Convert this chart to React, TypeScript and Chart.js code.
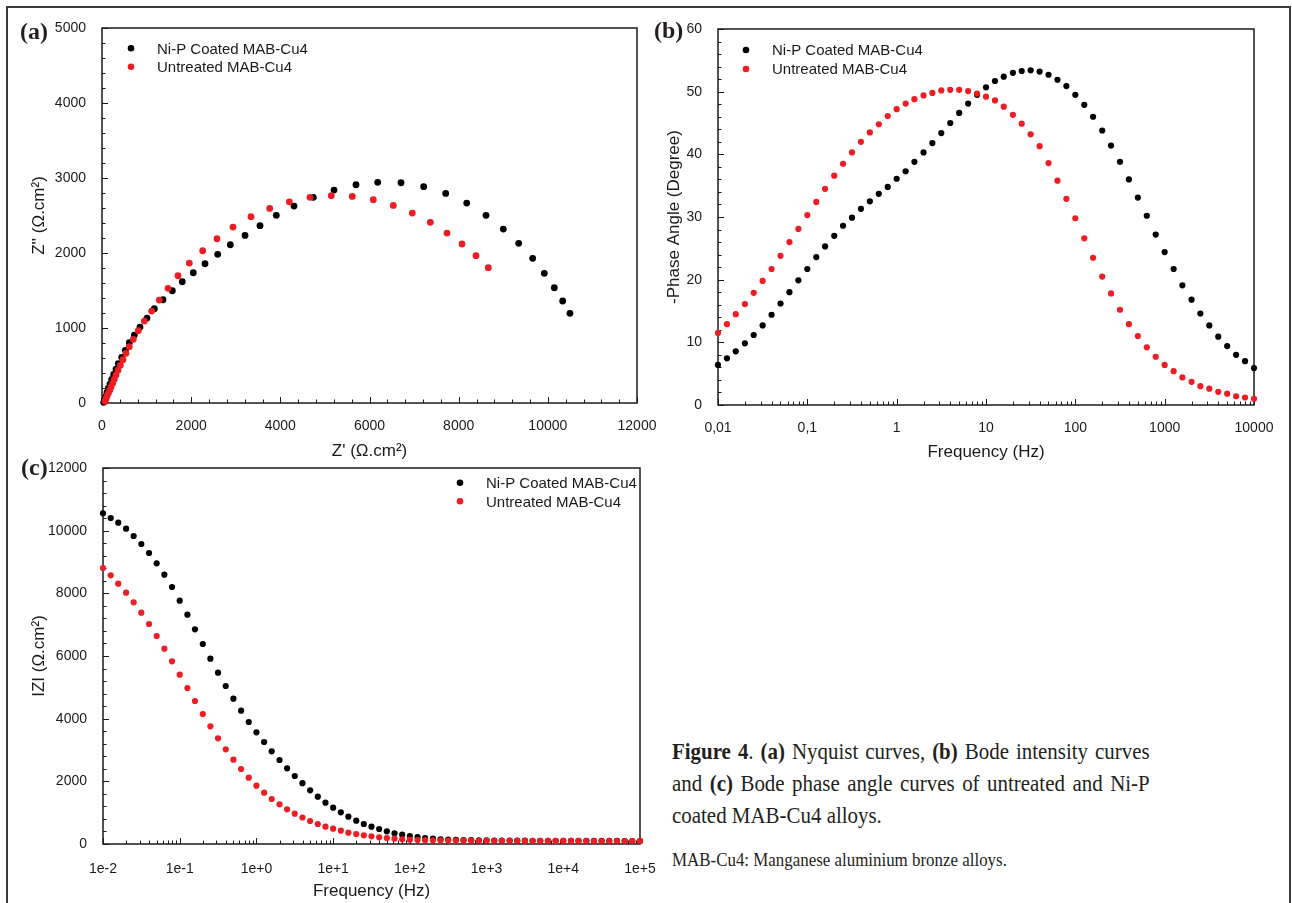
import React, { useEffect, useRef } from "react";
import { Chart, registerables } from "chart.js";

Chart.register(...registerables);

// ---------- data ----------
const SERIES_NAMES = ["Ni-P Coated MAB-Cu4", "Untreated MAB-Cu4"];
const SERIES_COLORS = ["#000000", "#ee1d23"];

// (a) Nyquist: Z' and Z'' (ohm.cm2)
const NYQ_COATED_RE = [38, 52, 83, 112, 141, 179, 217, 262, 314, 366, 442, 523, 612, 725, 852, 1009, 1173, 1368, 1577, 1801, 2048, 2310, 2595, 2878, 3208, 3544, 3910, 4307, 4740, 5204, 5697, 6184, 6707, 7215, 7709, 8180, 8613, 9001, 9346, 9660, 9921, 10145, 10333, 10496];
const NYQ_COATED_IM = [9, 40, 84, 142, 196, 253, 316, 382, 453, 524, 609, 702, 804, 906, 1013, 1133, 1257, 1377, 1497, 1617, 1737, 1857, 1982, 2110, 2235, 2364, 2502, 2626, 2742, 2839, 2910, 2942, 2937, 2884, 2795, 2666, 2502, 2319, 2129, 1929, 1729, 1537, 1360, 1196];
const NYQ_UNTREATED_RE = [67, 90, 112, 141, 173, 202, 240, 276, 314, 359, 411, 471, 538, 612, 702, 815, 949, 1114, 1286, 1480, 1705, 1958, 2258, 2579, 2938, 3342, 3761, 4202, 4665, 5143, 5614, 6085, 6534, 6960, 7364, 7738, 8075, 8389, 8665];
const NYQ_UNTREATED_IM = [22, 53, 89, 129, 169, 213, 263, 316, 373, 436, 503, 577, 662, 751, 849, 964, 1093, 1226, 1373, 1529, 1697, 1866, 2030, 2190, 2346, 2484, 2595, 2683, 2742, 2764, 2755, 2710, 2635, 2533, 2409, 2266, 2120, 1964, 1804];

// measurement frequencies (Hz)
const FREQ_HZ = [
  0.01, 0.0126, 0.0158, 0.02, 0.0251, 0.0316, 0.0398, 0.0501, 0.0631, 0.0794,
  0.1, 0.126, 0.158, 0.2, 0.251, 0.316, 0.398, 0.501, 0.631, 0.794,
  1, 1.26, 1.58, 2, 2.51, 3.16, 3.98, 5.01, 6.31, 7.94,
  10, 12.6, 15.8, 20, 25.1, 31.6, 39.8, 50.1, 63.1, 79.4,
  100, 126, 158, 200, 251, 316, 398, 501, 631, 794,
  1000, 1260, 1580, 2000, 2510, 3160, 3980, 5010, 6310, 7940,
  10000, 12600, 15800, 20000, 25100, 31600, 39800, 50100, 63100, 79400,
  100000,
];

// (b) -phase angle (degree), 0.01 .. 10000 Hz
const PHASE_COATED = [6.4, 7.45, 8.56, 9.84, 11.17, 12.7, 14.4, 16.2, 18.0, 19.9, 21.7, 23.6, 25.3, 27.0, 28.6, 29.9, 31.3, 32.5, 33.7, 34.8, 36.1, 37.3, 38.8, 40.3, 41.8, 43.4, 45.0, 46.6, 48.1, 49.5, 50.7, 51.7, 52.4, 53.0, 53.3, 53.4, 53.2, 52.7, 51.9, 50.9, 49.5, 47.9, 46.0, 43.8, 41.4, 38.8, 36.0, 33.1, 30.2, 27.2, 24.4, 21.7, 19.1, 16.8, 14.6, 12.7, 10.9, 9.4, 8.0, 7.0, 5.9];
const PHASE_UNTREATED = [11.5, 12.9, 14.5, 16.1, 17.9, 19.8, 21.7, 23.8, 26.0, 28.1, 30.3, 32.4, 34.5, 36.6, 38.5, 40.3, 42.0, 43.5, 44.8, 46.1, 47.2, 48.1, 48.8, 49.4, 49.8, 50.2, 50.3, 50.3, 50.1, 49.7, 49.2, 48.6, 47.6, 46.3, 44.9, 43.2, 41.3, 38.6, 35.8, 32.9, 29.8, 26.6, 23.5, 20.5, 17.8, 15.2, 12.9, 11.0, 9.2, 7.7, 6.4, 5.4, 4.4, 3.7, 3.0, 2.6, 2.1, 1.8, 1.4, 1.2, 1.0];

// (c) |Z| (ohm.cm2), 0.01 .. 1e5 Hz
const MODZ_COATED = [10554, 10404, 10255, 10064, 9830, 9575, 9287, 8958, 8596, 8202, 7766, 7318, 6852, 6383, 5915, 5468, 5043, 4638, 4254, 3894, 3564, 3255, 2957, 2681, 2415, 2170, 1940, 1713, 1511, 1319, 1160, 1011, 873, 745, 638, 553, 479, 404, 340, 298, 255, 223, 191, 170, 150, 140, 132, 126, 121, 117, 114, 112, 110, 108, 106, 105, 104, 103, 102, 101, 100, 100, 99, 99, 98, 98, 97, 97, 96, 96, 96];
const MODZ_UNTREATED = [8808, 8574, 8308, 8021, 7713, 7382, 7021, 6638, 6234, 5830, 5404, 4979, 4564, 4149, 3755, 3372, 3021, 2692, 2394, 2117, 1862, 1638, 1436, 1266, 1106, 968, 846, 734, 638, 553, 489, 425, 361, 319, 277, 245, 213, 191, 170, 150, 138, 128, 122, 117, 113, 110, 108, 106, 105, 104, 103, 102, 101, 100, 100, 99, 99, 98, 98, 98, 97, 97, 97, 97, 96, 96, 96, 96, 96, 95, 95];

// ticks
const NYQ_X_TICKS = [0, 2000, 4000, 6000, 8000, 10000, 12000];
const NYQ_Y_TICKS = [0, 1000, 2000, 3000, 4000, 5000];
const PHASE_X_TICKS = [0.01, 0.1, 1, 10, 100, 1000, 10000];
const PHASE_X_LABELS = ["0,01", "0,1", "1", "10", "100", "1000", "10000"];
const PHASE_Y_TICKS = [0, 10, 20, 30, 40, 50, 60];
const MODZ_X_TICKS = [0.01, 0.1, 1, 10, 100, 1000, 10000, 100000];
const MODZ_X_LABELS = ["1e-2", "1e-1", "1e+0", "1e+1", "1e+2", "1e+3", "1e+4", "1e+5"];
const MODZ_Y_TICKS = [0, 2000, 4000, 6000, 8000, 10000, 12000];

// ---------- styling helpers ----------
const INK = "#1a1a1a";
const FONT = "'Liberation Sans', Arial, Helvetica, sans-serif";
const SERIF = "'Liberation Serif', 'Times New Roman', serif";
const TICK_FONT = { family: FONT, size: 14 };
const TITLE_FONT = { family: FONT, size: 17 };

type Mark = { v: number; major: boolean };

function linearMarks(min: number, max: number, minor: number, major: number): Mark[] {
  const out: Mark[] = [];
  const n = Math.round((max - min) / minor);
  for (let k = 0; k <= n; k++) {
    const v = min + k * minor;
    out.push({ v, major: Math.abs(v / major - Math.round(v / major)) < 1e-6 });
  }
  return out;
}

function logMarks(e0: number, e1: number): Mark[] {
  const out: Mark[] = [];
  for (let e = e0; e <= e1; e++) {
    const d = Math.pow(10, e);
    out.push({ v: d, major: true });
    if (e < e1) for (let m = 2; m <= 9; m++) out.push({ v: m * d, major: false });
  }
  return out;
}

function decor(id: string, xMarks: Mark[], yMarks: Mark[], legend: { dx: number; dy: number; gap: number; tx: number }) {
  return {
    id,
    beforeDatasetsDraw(chart: any) {
      const { ctx, chartArea } = chart;
      const { left, right, top, bottom } = chartArea;
      const xs = chart.scales.x;
      const ys = chart.scales.y;
      ctx.save();
      ctx.strokeStyle = INK;
      ctx.lineWidth = 1;
      ctx.beginPath();
      xMarks.forEach((m) => {
        const p = Math.round(xs.getPixelForValue(m.v)) + 0.5;
        ctx.moveTo(p, bottom);
        ctx.lineTo(p, bottom - (m.major ? 6 : 3.5));
      });
      yMarks.forEach((m) => {
        const p = Math.round(ys.getPixelForValue(m.v)) + 0.5;
        ctx.moveTo(left, p);
        ctx.lineTo(left + (m.major ? 6 : 3.5), p);
      });
      ctx.stroke();
      ctx.lineWidth = 1.5;
      ctx.strokeRect(left, top, right - left, bottom - top);
      ctx.restore();
    },
    afterDatasetsDraw(chart: any) {
      const { ctx, chartArea } = chart;
      const { left, top } = chartArea;
      ctx.save();
      ctx.font = `15px ${FONT}`;
      ctx.textBaseline = "alphabetic";
      ctx.textAlign = "left";
      SERIES_NAMES.forEach((name, k) => {
        const y = top + legend.dy + k * legend.gap;
        ctx.fillStyle = SERIES_COLORS[k];
        ctx.beginPath();
        ctx.arc(left + legend.dx, y, 3.3, 0, Math.PI * 2);
        ctx.fill();
        ctx.fillStyle = INK;
        ctx.fillText(name, left + legend.tx, y + 5.3);
      });
      ctx.restore();
    },
  };
}

function axis(o: {
  type: string; min: number; max: number; ticks: number[]; labels?: string[];
  pad: number; title: string; titlePad: number; size: number; horizontal: boolean;
}) {
  return {
    type: o.type,
    min: o.min,
    max: o.max,
    position: o.horizontal ? "bottom" : "left",
    afterBuildTicks: (s: any) => {
      s.ticks = o.ticks.map((v) => ({ value: v }));
    },
    afterFit: (s: any) => {
      if (o.horizontal) {
        s.height = o.size;
        s.paddingLeft = 0;
        s.paddingRight = 0;
      } else {
        s.width = o.size;
        s.paddingTop = 0;
        s.paddingBottom = 0;
      }
    },
    ticks: {
      font: TICK_FONT,
      color: INK,
      padding: o.pad,
      maxRotation: 0,
      minRotation: 0,
      autoSkip: false,
      callback: (v: number, i: number) => (o.labels ? o.labels[i] : String(v)),
    },
    grid: { display: false },
    border: { display: false },
    title: {
      display: true,
      text: o.title,
      font: TITLE_FONT,
      color: INK,
      padding: o.horizontal ? { top: 0, bottom: o.titlePad } : { top: o.titlePad, bottom: 0 },
    },
  };
}

function scatterSet(label: string, color: string, pts: { x: number; y: number }[], r: number, order: number) {
  return {
    label,
    data: pts,
    backgroundColor: color,
    borderColor: color,
    pointBackgroundColor: color,
    pointBorderColor: color,
    pointBorderWidth: 0,
    pointRadius: r,
    pointHoverRadius: r,
    showLine: false,
    clip: false as any,
    order,
  };
}

const basePlugins = { legend: { display: false }, tooltip: { enabled: false } };

function nyquistConfig(): any {
  return {
    type: "scatter",
    data: {
      datasets: [
        scatterSet(SERIES_NAMES[0], SERIES_COLORS[0], NYQ_COATED_RE.map((x, i) => ({ x, y: NYQ_COATED_IM[i] })), 3.4, 1),
        scatterSet(SERIES_NAMES[1], SERIES_COLORS[1], NYQ_UNTREATED_RE.map((x, i) => ({ x, y: NYQ_UNTREATED_IM[i] })), 3.4, 0),
      ],
    },
    options: {
      responsive: false,
      animation: false,
      events: [],
      layout: { padding: { left: 0, top: 28, right: 33, bottom: 0 }, autoPadding: false },
      plugins: basePlugins,
      scales: {
        x: axis({ type: "linear", min: 0, max: 12000, ticks: NYQ_X_TICKS, pad: 7, title: "Z' (Ω.cm²)", titlePad: 8, size: 67, horizontal: true }),
        y: axis({ type: "linear", min: 0, max: 5000, ticks: NYQ_Y_TICKS, pad: 8, title: "Z'' (Ω.cm²)", titlePad: 29, size: 102, horizontal: false }),
      },
    },
    plugins: [decor("decorA", linearMarks(0, 12000, 400, 2000), linearMarks(0, 5000, 200, 1000), { dx: 29, dy: 20.3, gap: 18.4, tx: 55 })],
  };
}

function phaseConfig(): any {
  return {
    type: "scatter",
    data: {
      datasets: [
        scatterSet(SERIES_NAMES[0], SERIES_COLORS[0], PHASE_COATED.map((y, i) => ({ x: FREQ_HZ[i], y })), 3.1, 1),
        scatterSet(SERIES_NAMES[1], SERIES_COLORS[1], PHASE_UNTREATED.map((y, i) => ({ x: FREQ_HZ[i], y })), 3.1, 0),
      ],
    },
    options: {
      responsive: false,
      animation: false,
      events: [],
      layout: { padding: { left: 0, top: 29, right: 38, bottom: 0 }, autoPadding: false },
      plugins: basePlugins,
      scales: {
        x: axis({ type: "logarithmic", min: 0.01, max: 10000, ticks: PHASE_X_TICKS, labels: PHASE_X_LABELS, pad: 7, title: "Frequency (Hz)", titlePad: 7, size: 65, horizontal: true }),
        y: axis({ type: "linear", min: 0, max: 60, ticks: PHASE_Y_TICKS, pad: 8, title: "-Phase Angle (Degree)", titlePad: 14, size: 68, horizontal: false }),
      },
    },
    plugins: [decor("decorB", logMarks(-2, 4), linearMarks(0, 60, 2, 10), { dx: 28, dy: 21, gap: 19, tx: 54 })],
  };
}

function modulusConfig(): any {
  return {
    type: "scatter",
    data: {
      datasets: [
        scatterSet(SERIES_NAMES[0], SERIES_COLORS[0], MODZ_COATED.map((y, i) => ({ x: FREQ_HZ[i], y })), 3.1, 1),
        scatterSet(SERIES_NAMES[1], SERIES_COLORS[1], MODZ_UNTREATED.map((y, i) => ({ x: FREQ_HZ[i], y })), 3.1, 0),
      ],
    },
    options: {
      responsive: false,
      animation: false,
      events: [],
      layout: { padding: { left: 0, top: 28, right: 30, bottom: 0 }, autoPadding: false },
      plugins: basePlugins,
      scales: {
        x: axis({ type: "logarithmic", min: 0.01, max: 100000, ticks: MODZ_X_TICKS, labels: MODZ_X_LABELS, pad: 9, title: "Frequency (Hz)", titlePad: 1, size: 59, horizontal: true }),
        y: axis({ type: "linear", min: 0, max: 12000, ticks: MODZ_Y_TICKS, pad: 8, title: "IZI (Ω.cm²)", titlePad: 29, size: 103, horizontal: false }),
      },
    },
    plugins: [decor("decorC", logMarks(-2, 5), linearMarks(0, 12000, 400, 2000), { dx: 357, dy: 14.7, gap: 18.6, tx: 383 })],
  };
}

function ChartCanvas(props: { left: number; top: number; width: number; height: number; make: () => any }) {
  const ref = useRef<HTMLCanvasElement | null>(null);
  useEffect(() => {
    if (!ref.current) return;
    const chart = new Chart(ref.current, props.make());
    return () => chart.destroy();
  }, []);
  return (
    <canvas
      ref={ref}
      width={props.width}
      height={props.height}
      style={{ position: "absolute", left: props.left, top: props.top, width: props.width, height: props.height, display: "block" }}
    />
  );
}

const panelLabel = (text: string, left: number, top: number) => (
  <div style={{ position: "absolute", left, top, font: `bold 24px/24px ${SERIF}`, color: "#231f20", whiteSpace: "nowrap" }}>{text}</div>
);

function Line({ items, justify }: { items: React.ReactNode[]; justify: boolean }) {
  return (
    <div style={{ display: "flex", justifyContent: justify ? "space-between" : "flex-start", gap: justify ? 0 : "0.25em", whiteSpace: "nowrap", height: 32, lineHeight: "32px" }}>
      {items.map((it, i) => (
        <span key={i}>{it}</span>
      ))}
    </div>
  );
}

export default function App() {
  const capLine1: React.ReactNode[] = [
    <b>Figure</b>, <><b>4</b>.</>, <b>(a)</b>, "Nyquist", "curves,", <b>(b)</b>, "Bode", "intensity", "curves",
  ];
  const capLine2: React.ReactNode[] = [
    "and", <b>(c)</b>, "Bode", "phase", "angle", "curves", "of", "untreated", "and", "Ni-P",
  ];
  const capLine3: React.ReactNode[] = ["coated", "MAB-Cu4", "alloys."];
  return (
    <div style={{ position: "fixed", left: 0, top: 0, width: 1292, height: 903, background: "#ffffff", overflow: "hidden" }}>
      <div style={{ position: "absolute", left: 6, top: 6, width: 1285, height: 1000, boxSizing: "border-box", border: "2px solid #3a3a3a" }} />
      <ChartCanvas left={0} top={0} width={670} height={470} make={nyquistConfig} />
      <ChartCanvas left={650} top={0} width={642} height={470} make={phaseConfig} />
      <ChartCanvas left={0} top={440} width={670} height={463} make={modulusConfig} />
      {panelLabel("(a)", 20, 19)}
      {panelLabel("(b)", 654, 18)}
      {panelLabel("(c)", 21, 455)}
      <div style={{ position: "absolute", left: 672, top: 736, width: 525, transform: "scaleX(0.91)", transformOrigin: "0 0", font: `23px ${SERIF}`, color: "#231f20" }}>
        <Line items={capLine1} justify={true} />
        <Line items={capLine2} justify={true} />
        <Line items={capLine3} justify={false} />
      </div>
      <div style={{ position: "absolute", left: 672, top: 848, transform: "scaleX(0.89)", transformOrigin: "0 0", font: `19px/24px ${SERIF}`, color: "#231f20", whiteSpace: "nowrap" }}>
        MAB-Cu4: Manganese aluminium bronze alloys.
      </div>
    </div>
  );
}
